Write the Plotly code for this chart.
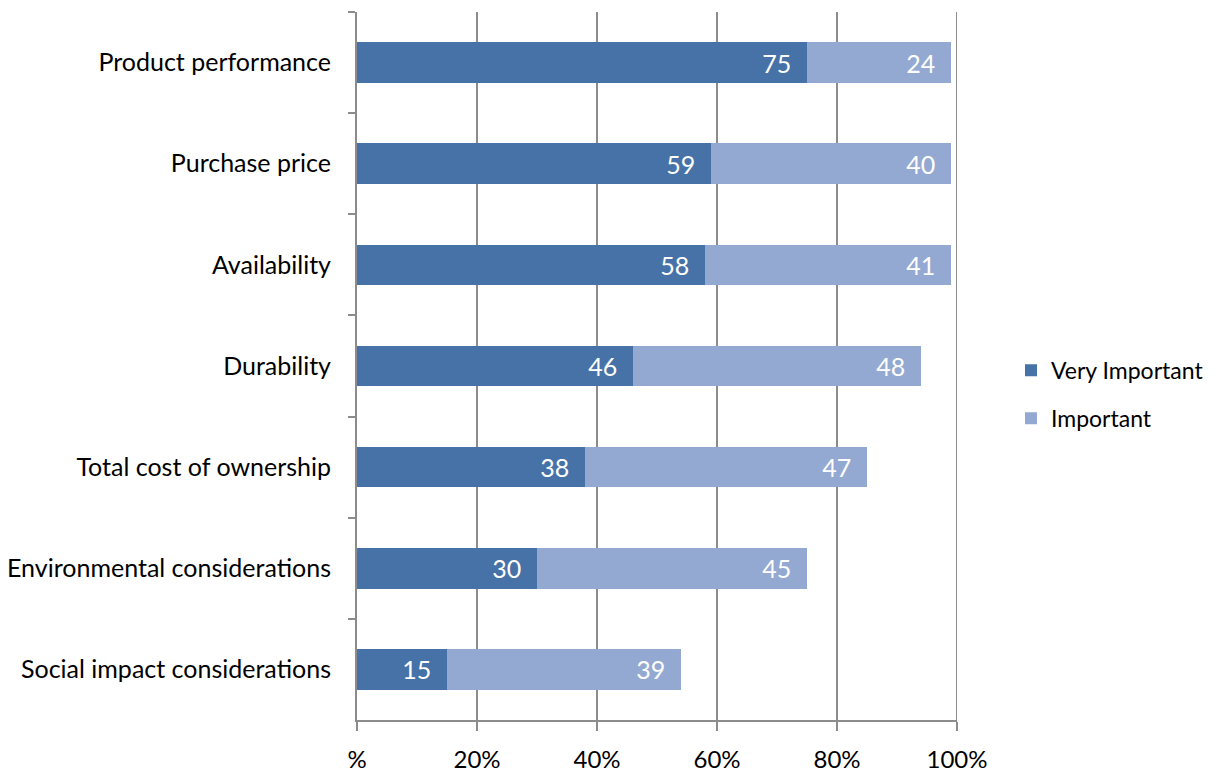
import plotly.graph_objects as go

categories = ["Product performance", "Purchase price", "Availability", "Durability",
              "Total cost of ownership", "Environmental considerations",
              "Social impact considerations"]
very_important = [75, 59, 58, 46, 38, 30, 15]
important = [24, 40, 41, 48, 47, 45, 39]
tick_vals = [0, 20, 40, 60, 80, 100]
tick_text = ["%", "20%", "40%", "60%", "80%", "100%"]

FONT = "Lato"
FS = 25
fig = go.Figure()
fig.add_trace(go.Bar(
    y=categories, x=very_important, orientation="h", name="Very Important",
    legendgroup="a",
    marker=dict(color="#4672A8", line=dict(width=0)),
    text=[f"{v}  " for v in very_important], textposition="inside", insidetextanchor="end",
    textfont=dict(color="white", size=FS, family=FONT)))
fig.add_trace(go.Bar(
    y=categories, x=important, orientation="h", name="Important",
    legendgroup="b",
    marker=dict(color="#94A9D2", line=dict(width=0)),
    text=[f"{v}  " for v in important], textposition="inside", insidetextanchor="end",
    textfont=dict(color="white", size=FS, family=FONT)))

fig.update_layout(
    barmode="stack", bargap=0.6,
    width=1212, height=766,
    margin=dict(l=349, r=263, t=4, b=54, autoexpand=False),
    plot_bgcolor="white", paper_bgcolor="white",
    font=dict(family=FONT, size=FS, color="black"),
    uniformtext=dict(minsize=FS, mode="show"),
    legend=dict(x=1.09, y=0.46, xanchor="left", yanchor="middle",
                font=dict(size=23, family=FONT), tracegroupgap=15,
                traceorder="grouped", itemwidth=30),
    xaxis=dict(range=[0, 100], tickvals=tick_vals, ticktext=tick_text,
               tickfont=dict(size=24),
               showgrid=True, gridcolor="#8C8C8C", gridwidth=2,
               showline=True, linecolor="#8C8C8C", linewidth=2,
               ticks="outside", ticklen=9, tickcolor="#8C8C8C", tickwidth=2,
               ticklabelstandoff=8, zeroline=False, automargin=False),
    yaxis=dict(autorange="reversed", showline=True, linecolor="#8C8C8C", linewidth=2,
               ticks="outside", ticklen=7, tickcolor="#8C8C8C", tickwidth=2,
               tickson="boundaries", showgrid=False, ticklabelstandoff=19,
               automargin=False),
)
fig.add_shape(type="line", xref="x", yref="paper", x0=100, x1=100, y0=0, y1=1,
              line=dict(color="#8C8C8C", width=2), layer="below")
fig.write_html("out.html")
